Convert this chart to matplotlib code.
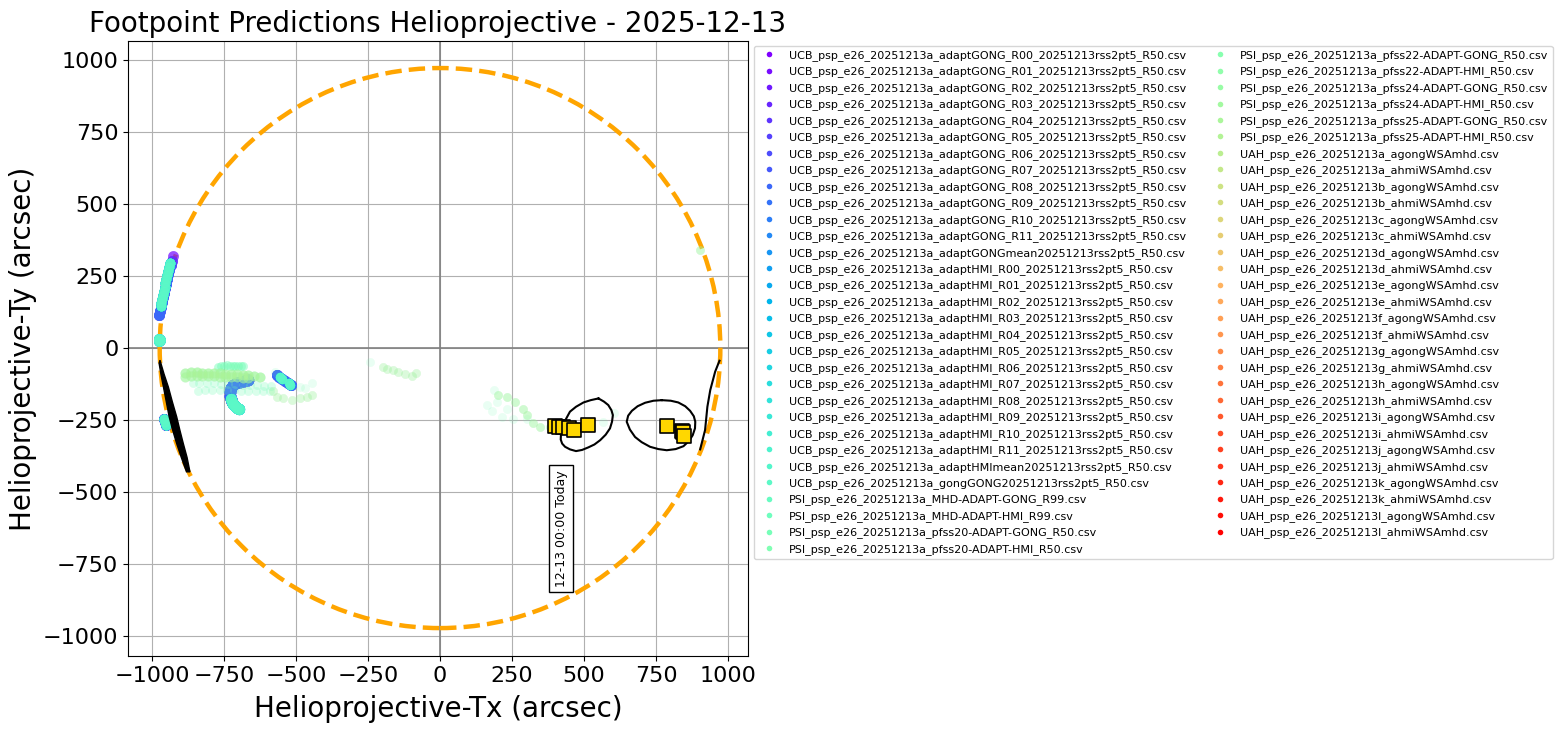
import numpy as np
import matplotlib
matplotlib.use("Agg")
import matplotlib.pyplot as plt
from matplotlib.lines import Line2D

prefix = "psp_e26_20251213"
ucb_names = ["UCB_%sa_adaptGONG_R%02d_20251213rss2pt5_R50.csv" % (prefix, r) for r in range(12)]
ucb_names += ["UCB_%sa_adaptGONGmean20251213rss2pt5_R50.csv" % prefix]
ucb_names += ["UCB_%sa_adaptHMI_R%02d_20251213rss2pt5_R50.csv" % (prefix, r) for r in range(12)]
ucb_names += ["UCB_%sa_adaptHMImean20251213rss2pt5_R50.csv" % prefix]
ucb_names += ["UCB_%sa_gongGONG20251213rss2pt5_R50.csv" % prefix]
psi_names = ["PSI_%sa_MHD-ADAPT-GONG_R99.csv" % prefix, "PSI_%sa_MHD-ADAPT-HMI_R99.csv" % prefix]
for m in ["pfss20", "pfss22", "pfss24", "pfss25"]:
    psi_names += ["PSI_%sa_%s-ADAPT-GONG_R50.csv" % (prefix, m), "PSI_%sa_%s-ADAPT-HMI_R50.csv" % (prefix, m)]
uah_names = []
for run in "abcdefghijkl":
    uah_names += ["UAH_%s%s_agongWSAmhd.csv" % (prefix, run), "UAH_%s%s_ahmiWSAmhd.csv" % (prefix, run)]
series_names = ucb_names + psi_names + uah_names

# footpoints, arcsec
north_gong_tx = [-927, -931, -935, -939, -943, -947, -951, -955, -959, -962, -965, -968, -971, -974]
north_gong_ty = [320, 304, 288, 272, 256, 240, 224, 208, 192, 176, 160, 144, 128, 115]
north_hmi_tx = [-938, -941, -944, -947, -950, -953, -956, -959, -962, -965, -968, -970]
north_hmi_ty = [296, 282, 268, 254, 240, 226, 212, 198, 184, 170, 156, 145]
limb_north_tx = [-975, -975, -973]
limb_north_ty = [24, 32, 28]
limb_south_tx = [-958, -954, -950]
limb_south_ty = [-248, -258, -268]
hook_gong_tx = [-666, -680, -694, -707, -718, -725, -729, -729, -726, -723]
hook_gong_ty = [-111, -113, -117, -122, -129, -140, -152, -165, -178, -187]
hook_hmi_tx = [-726, -723, -717, -710, -703, -697]
hook_hmi_ty = [-178, -187, -194, -203, -208, -212]
far_gong_tx = [-567, -558, -548, -538, -528, -518]
far_gong_ty = [-94, -100, -107, -114, -122, -128]
far_hmi_tx = [-555, -548, -525, -520]
far_hmi_ty = [-102, -107, -122, -127]
upper_tx = [-770, -760, -750, -740, -730, -720, -710, -700, -690, -684]
upper_ty = [-66, -63, -61, -60, -61, -62, -62, -63, -63, -63]
band_tx = [-885, -865, -845, -825, -805, -785, -765, -745, -725, -705, -685, -665, -645, -625]
band_ty = [-85, -84, -84, -85, -86, -87, -88, -89, -90, -91, -93, -95, -97, -100]
band2_tx = [-885, -865, -845, -825, -805, -785, -765, -745, -725, -705, -685, -665]
band2_ty = [-100, -97, -96, -96, -97, -98, -99, -100, -101, -102, -103, -104]
row_tx = [-857, -835, -810, -785, -760, -735, -710, -685, -660, -635, -610, -585,
          -839, -815, -790, -765, -740, -715, -690, -665, -640, -615, -590]
row_ty = [-121, -121, -122, -123, -124, -125, -126, -127, -128, -129, -131, -132,
          -148, -147, -147, -146, -147, -147, -148, -148, -148, -148, -148]
faint_tx = [-573, -443, -486, -470, 187, 164, 179, 214, 255, 301, 197, 231, 567, 604, -243]
faint_ty = [-82, -120, -135, -140, -144, -198, -218, -239, -248, -248, -189, -210, -256, -227, -48]
green_tx = [-579, -567, -544, -515, -486, -463, -443, -199, -184, -163, -145, -122, -97, -83]
green_ty = [-148, -169, -175, -181, -175, -169, -163, -66, -73, -77, -83, -90, -97, -88]
east_tx = [202, 231, 260, 289, 301, 324, 347, 382, 903]
east_ty = [-163, -169, -187, -210, -233, -262, -274, -276, 340]

# black contours
lens_tx = [-975, -968, -960, -950, -940, -928, -914, -898, -880, -868, -878, -891, -903, -914, -929, -943, -958, -972]
lens_ty = [-53, -95, -135, -187, -239, -285, -332, -380, -430, -430, -380, -332, -285, -239, -187, -135, -90, -42]
loop_left_tx = [550, 569, 584, 595, 600, 597, 590, 575, 556, 536, 515, 493, 472, 451, 434, 424, 419, 420, 428, 438, 451, 472, 498, 523, 550]
loop_left_ty = [-175, -186, -198, -216, -233, -256, -279, -301, -320, -335, -345, -354, -358, -352, -343, -332, -318, -293, -268, -245, -221, -204, -189, -181, -175]
loop_right_tx = [770, 801, 827, 851, 868, 881, 886, 885, 877, 864, 845, 818, 787, 758, 729, 700, 677, 659, 648, 653, 666, 686, 712, 741, 770]
loop_right_ty = [-181, -183, -189, -202, -218, -237, -256, -279, -303, -323, -341, -351, -355, -351, -343, -327, -309, -283, -256, -235, -218, -202, -190, -183, -181]
limb_curve_tx = [970, 955, 938, 928, 920, 903]
limb_curve_ty = [-44, -82, -146, -204, -285, -352]

# spacecraft footpoint squares
square_tx = [399, 414, 428, 447, 466, 515, 789, 839, 843, 848]
square_ty = [-272, -274, -276, -279, -283, -269, -272, -288, -293, -304]

rsun = 973
ticks = [-1000, -750, -500, -250, 0, 250, 500, 750, 1000]

W, H = 1562, 732
fig = plt.figure(figsize=(W / 100, H / 100), dpi=100)
ax = fig.add_axes([128 / W, (H - 656) / H, 620 / W, 615 / H])

colors = plt.cm.rainbow(np.linspace(0, 1, len(series_names)))
handles = []
for i, name in enumerate(series_names):
    c = colors[i]
    if i < 13:
        # the royal blue runs sit on top of the other GONG runs
        z = 2.2 - abs(i - 8) * 0.01
        start = i // 3
        ax.scatter(north_gong_tx[start:], north_gong_ty[start:], s=60, color=c, alpha=0.35, lw=0, zorder=z)
        ax.scatter(hook_gong_tx, hook_gong_ty, s=70, color=c, alpha=0.35, lw=0, zorder=z)
        ax.scatter(far_gong_tx, far_gong_ty, s=60, color=c, alpha=0.35, lw=0, zorder=z)
        ax.scatter(limb_south_tx, limb_south_ty, s=60, color=c, alpha=0.35, lw=0, zorder=z)
    elif i < 27:
        ax.scatter(north_hmi_tx, north_hmi_ty, s=50, color=c, alpha=0.5, lw=0, zorder=2.3)
        ax.scatter(limb_north_tx, limb_north_ty, s=60, color=c, alpha=0.5, lw=0, zorder=2.3)
        ax.scatter(limb_south_tx, limb_south_ty, s=50, color=c, alpha=0.5, lw=0, zorder=2.3)
        ax.scatter(hook_hmi_tx, hook_hmi_ty, s=65, color=c, alpha=0.5, lw=0, zorder=2.3)
        ax.scatter(far_hmi_tx, far_hmi_ty, s=45, color=c, alpha=0.5, lw=0, zorder=2.3)
    elif i < 31:
        ax.scatter(upper_tx, upper_ty, s=40, color=c, alpha=0.15, lw=0, zorder=2.4)
        ax.scatter(row_tx, row_ty, s=40, color=c, alpha=0.07, lw=0, zorder=2.4)
        ax.scatter(faint_tx, faint_ty, s=40, color=c, alpha=0.04, lw=0, zorder=2.4)
    elif i < 37:
        ax.scatter(band_tx, band_ty, s=50, color=c, alpha=0.2, lw=0, zorder=2.5)
        ax.scatter(band2_tx, band2_ty, s=50, color=c, alpha=0.16, lw=0, zorder=2.5)
        ax.scatter(east_tx, east_ty, s=40, color=c, alpha=0.1, lw=0, zorder=2.5)
        ax.scatter(green_tx, green_ty, s=40, color=c, alpha=0.07, lw=0, zorder=2.5)
    handles.append(Line2D([], [], ls="none", marker="o", ms=4, mew=0, color=c, label=name))

ax.fill(lens_tx, lens_ty, color="k", lw=1, zorder=3)
ax.plot(loop_left_tx, loop_left_ty, color="k", lw=1.5, zorder=3)
ax.plot(loop_right_tx, loop_right_ty, color="k", lw=1.5, zorder=3)
ax.plot(limb_curve_tx, limb_curve_ty, color="k", lw=1.5, zorder=3)

ax.add_patch(plt.Circle((0, 0), rsun, fill=False, color="orange", lw=3.2, ls="--", zorder=1.5))
ax.scatter(square_tx, square_ty, s=100, marker="s", color="gold", edgecolor="k", lw=1.2, zorder=4)
ax.text(420, -830, "12-13 00:00 Today", rotation=90, fontsize=9, ha="center", va="bottom",
        bbox=dict(fc="white", ec="k"), zorder=5)

ax.axhline(0, color="gray", lw=1.2, zorder=1)
ax.axvline(0, color="gray", lw=1.2, zorder=1)
ax.grid(True)
ax.set_axisbelow(True)
ax.set_xticks(ticks)
ax.set_yticks(ticks)
ax.set_xlim(-1083, 1069)
ax.set_ylim(-1070, 1067)
ax.tick_params(labelsize=16)
ax.set_xlabel("Helioprojective-Tx (arcsec)", fontsize=20, labelpad=6.5)
ax.set_ylabel("Helioprojective-Ty (arcsec)", fontsize=20)
ax.set_title("Footpoint Predictions Helioprojective - 2025-12-13", fontsize=20, pad=6.5)
ax.legend(handles=handles, ncol=2, fontsize=8, loc="upper left", bbox_to_anchor=(1, 1.0015))

fig.savefig("out.png", dpi=100)
